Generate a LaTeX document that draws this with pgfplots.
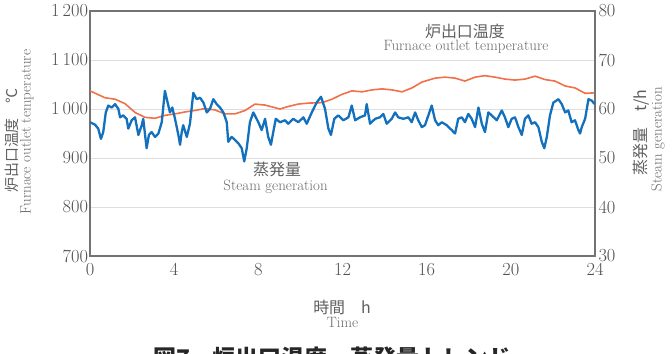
\documentclass[border=0pt]{standalone}
\usepackage{pgfplots}
\pgfplotsset{compat=1.18}
\usepackage{fontspec}
\newfontfamily\jp{Noto Sans CJK JP}
\definecolor{tempc}{RGB}{240,112,72}
\definecolor{steamc}{RGB}{18,112,188}
\definecolor{txt}{RGB}{80,80,80}
\definecolor{txtj}{RGB}{95,95,95}
\definecolor{txtl}{RGB}{105,105,105}
\newcommand\tk{\fontsize{18.5}{18.5}\selectfont}
\newcommand\en{\fontsize{15}{15}\selectfont}
\newcommand\jpf{\jp\fontsize{16}{16}\selectfont}

\pgfplotstableread{
h T
0 1037
0.71 1023
1.19 1020
1.66 1011
2.14 993
2.61 983
3.09 981
3.56 987
4.04 990
4.52 994
4.99 997
5.47 1001
5.94 998
6.42 990
6.89 990
7.37 997
7.84 1010
8.32 1008
9.03 1000
9.41 1005
9.89 1010
10.36 1012
11.03 1013
11.50 1020
11.98 1030
12.45 1037
12.93 1035
13.40 1039
13.88 1041
14.35 1039
14.83 1035
15.30 1043
15.78 1055
16.40 1063
16.87 1065
17.35 1063
17.82 1057
18.30 1065
18.77 1068
19.25 1065
19.72 1061
20.20 1059
20.67 1061
21.15 1067
21.63 1060
22.10 1057
22.58 1047
23.05 1043
23.53 1032
24.00 1033
}\temptable

\pgfplotstableread{
h S
0 57.3
0.24 56.8
0.39 56.0
0.52 53.9
0.63 55.3
0.75 59.3
0.87 60.7
1.03 60.3
1.19 61.0
1.35 60.0
1.43 58.3
1.58 58.7
1.74 58.0
1.82 56.0
1.98 57.7
2.14 58.3
2.30 54.7
2.46 56.7
2.53 58.0
2.69 52.0
2.80 54.7
2.93 55.3
3.09 54.3
3.25 55.0
3.41 57.3
3.56 63.7
3.69 61.3
3.80 59.3
3.91 60.3
4.04 58.0
4.20 54.7
4.28 52.7
4.36 55.3
4.43 56.7
4.60 54.3
4.75 57.0
4.91 63.3
5.07 62.0
5.23 62.3
5.39 61.3
5.55 59.3
5.70 60.0
5.86 62.0
6.02 61.0
6.18 60.3
6.34 59.3
6.50 57.3
6.57 53.3
6.73 54.3
6.89 53.7
7.05 53.0
7.21 52.0
7.33 49.3
7.45 52.0
7.60 57.3
7.76 59.3
8.00 57.3
8.16 55.7
8.32 58.0
8.47 54.3
8.60 52.7
8.71 55.3
8.83 58.0
9.03 57.3
9.27 57.7
9.42 57.0
9.66 58.0
9.90 57.3
10.14 58.3
10.30 57.0
10.54 59.3
10.77 61.3
10.98 62.5
11.17 60.0
11.33 56.0
11.45 54.7
11.61 58.0
11.80 58.7
12.04 57.7
12.28 58.3
12.44 60.7
12.60 57.7
12.83 58.3
13.07 58.7
13.15 61.0
13.31 57.0
13.55 58.0
13.78 58.3
13.94 59.0
14.10 57.0
14.34 58.0
14.50 59.3
14.65 58.3
14.89 58.0
15.13 58.3
15.29 57.3
15.45 59.3
15.60 57.7
15.77 56.3
15.92 56.7
16.08 58.7
16.24 60.7
16.40 57.7
16.55 56.7
16.72 57.3
16.95 56.7
17.19 55.7
17.35 55.0
17.50 58.0
17.67 58.3
17.82 57.3
17.98 59.0
18.14 58.0
18.30 56.3
18.46 60.3
18.62 57.0
18.77 55.3
18.93 59.3
19.09 58.7
19.33 57.7
19.57 59.7
19.72 58.3
19.88 56.3
20.04 58.0
20.20 58.3
20.36 56.3
20.52 54.7
20.67 58.0
20.83 58.7
20.99 57.0
21.15 57.3
21.31 56.3
21.47 53.3
21.59 52.0
21.71 54.3
21.86 58.7
22.02 61.3
22.26 62.0
22.42 61.0
22.58 59.3
22.73 59.7
22.89 57.3
23.05 57.7
23.21 55.7
23.29 55.0
23.37 56.3
23.53 58.0
23.69 62.0
23.85 61.7
23.92 61.3
24.00 61.0
}\steamtable

\begin{document}
\begin{tikzpicture}
\pgfplotsset{
  common/.style={
    scale only axis, width=505bp, height=245bp,
    xmin=0, xmax=24,
    major tick length=0pt,
    axis line style={black!55, line width=1.1bp},
    tick label style={font=\tk, text=txt},
    /pgf/number format/assume math mode=true,
    /pgf/number format/1000 sep={\,},
  }
}
\begin{axis}[common,
  ymin=700, ymax=1200,
  xtick={0,4,...,24}, ytick={700,800,...,1200},
  ymajorgrids, grid style={black!13, line width=0.6bp},
  xticklabel style={yshift=-4bp},
  yticklabel style={xshift=1.5bp},
]
\addplot[tempc, line width=1.6bp, line join=round] table[x=h, y=T] {\temptable};
\node[font=\jpf, text=txtj] at (axis cs:17.82,1159) {炉出口温度};
\node[font=\en, text=txtl] at (axis cs:17.87,1127) {Furnace outlet temperature};
\node[font=\jpf, text=txtj] at (axis cs:8.89,877) {蒸発量};
\node[font=\en, text=txtl] at (axis cs:8.82,841) {Steam generation};
\end{axis}
\begin{axis}[common,
  ymin=30, ymax=80,
  axis y line*=right, axis x line=none,
  ytick={30,40,...,80},
  yticklabel style={xshift=0bp},
]
\addplot[steamc, line width=2.3bp, line join=round] table[x=h, y=S] {\steamtable};
\end{axis}
% axis titles
\node[font=\jp\fontsize{15}{15}\selectfont, text=txtj, rotate=90] at (-78.5bp,115.5bp) {炉出口温度　℃};
\node[font=\en, text=txtl, rotate=90] at (-63bp,124bp) {Furnace outlet temperature};
\node[font=\jpf, text=txtj, rotate=90] at (551bp,123.5bp) {蒸発量　t/h};
\node[font=\en, text=txtl, rotate=90] at (568bp,117bp) {Steam generation};
\node[font=\jpf, text=txtj] at (252bp,-51.5bp) {時間　h};
\node[font=\en, text=txtl] at (252.5bp,-66bp) {Time};
\node[font=\jp\bfseries\fontsize{23}{23}\selectfont, text=black!85, anchor=north west, inner sep=0pt] at (63bp,-91bp) {図7　炉出口温度・蒸発量トレンド};
\pgfresetboundingbox
\useasboundingbox (-90bp,-98bp) rectangle (582bp,256bp);
\end{tikzpicture}
\end{document}
